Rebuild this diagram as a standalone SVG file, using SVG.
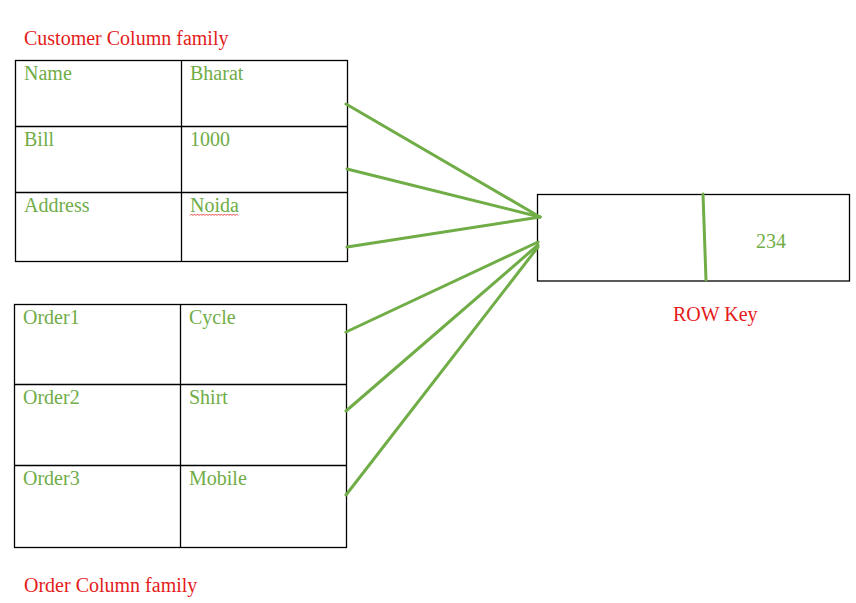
<svg xmlns="http://www.w3.org/2000/svg" width="856" height="603" viewBox="0 0 856 603">
<style>
.tbl{fill:none;stroke:#000;stroke-width:1.3}
.cell{font-family:"Liberation Serif",serif;font-size:20px;fill:#70AD47}
.title{font-family:"Liberation Serif",serif;font-size:20px;fill:#E31B1B}
.conn{stroke:#70AD47;stroke-width:3;stroke-linecap:round;fill:none}
</style>
<rect width="856" height="603" fill="#fff"/>
<text class="title" x="24" y="45">Customer Column family</text>
<g id="customer">
<rect class="tbl" x="15.5" y="60.5" width="332" height="201"/>
<line class="tbl" x1="181.5" y1="60.5" x2="181.5" y2="261.5"/>
<line class="tbl" x1="15.5" y1="126.5" x2="347.5" y2="126.5"/>
<line class="tbl" x1="15.5" y1="192.5" x2="347.5" y2="192.5"/>
<text class="cell" x="24" y="80">Name</text>
<text class="cell" x="190" y="80">Bharat</text>
<text class="cell" x="24" y="146">Bill</text>
<text class="cell" x="190" y="146">1000</text>
<text class="cell" x="24" y="212">Address</text>
<text class="cell" x="190" y="212">Noida</text>
<path d="M190,215.5 l1.5,-1.5 l1.5,1.5 l1.5,-1.5 l1.5,1.5 l1.5,-1.5 l1.5,1.5 l1.5,-1.5 l1.5,1.5 l1.5,-1.5 l1.5,1.5 l1.5,-1.5 l1.5,1.5 l1.5,-1.5 l1.5,1.5 l1.5,-1.5 l1.5,1.5 l1.5,-1.5 l1.5,1.5 l1.5,-1.5 l1.5,1.5 l1.5,-1.5 l1.5,1.5 l1.5,-1.5 l1.5,1.5 l1.5,-1.5 l1.5,1.5 l1.5,-1.5 l1.5,1.5 l1.5,-1.5 l1.5,1.5 l1.5,-1.5 l1.5,1.5" fill="none" stroke="#E31B1B" stroke-width="0.8"/>
</g>
<g id="order">
<rect class="tbl" x="14.5" y="304.5" width="332" height="243"/>
<line class="tbl" x1="180.5" y1="304.5" x2="180.5" y2="547.5"/>
<line class="tbl" x1="14.5" y1="384.5" x2="346.5" y2="384.5"/>
<line class="tbl" x1="14.5" y1="465.5" x2="346.5" y2="465.5"/>
<text class="cell" x="23" y="324">Order1</text>
<text class="cell" x="189" y="324">Cycle</text>
<text class="cell" x="23" y="404">Order2</text>
<text class="cell" x="189" y="404">Shirt</text>
<text class="cell" x="23" y="485">Order3</text>
<text class="cell" x="189" y="485">Mobile</text>
</g>
<text class="title" x="24" y="592">Order Column family</text>
<g id="rowkey">
<rect class="tbl" x="537.5" y="194.5" width="312" height="86.5"/>
<line class="conn" x1="703" y1="194" x2="706" y2="280"/>
<text class="cell" x="756" y="248">234</text>
<text class="title" x="673" y="321">ROW Key</text>
</g>
<g id="connectors">
<line class="conn" x1="346" y1="104" x2="540" y2="217"/>
<line class="conn" x1="347" y1="169" x2="540" y2="217"/>
<line class="conn" x1="347" y1="247" x2="540" y2="217"/>
<line class="conn" x1="346" y1="332" x2="538" y2="242"/>
<line class="conn" x1="346" y1="411" x2="538" y2="245"/>
<line class="conn" x1="346" y1="495" x2="538" y2="247"/>
</g>
</svg>
